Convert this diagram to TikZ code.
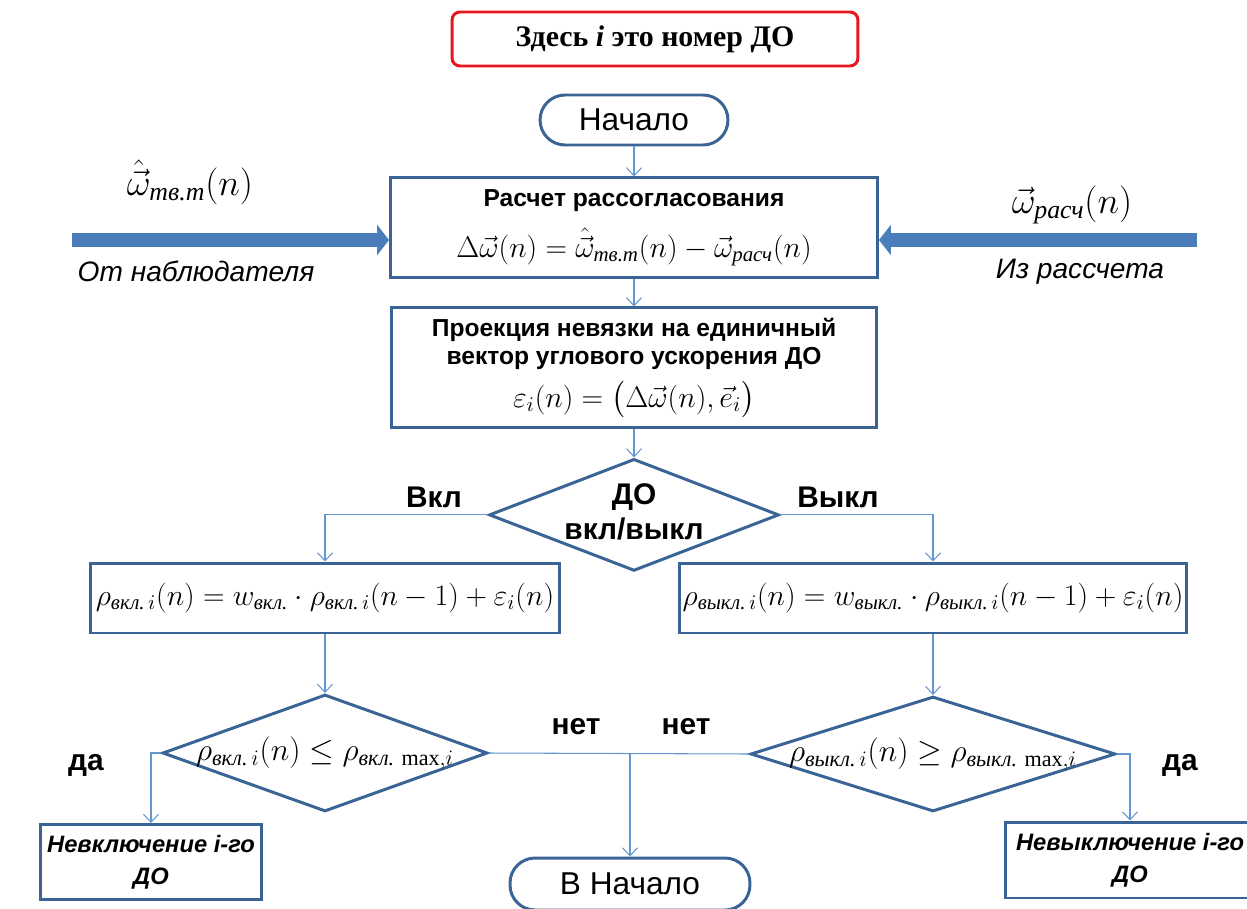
\RequirePackage{fix-cm}
\documentclass[tikz,border=0pt]{standalone}
\usepackage{amsmath}
\usepackage{fontspec}
\setmainfont{Liberation Serif}
\setsansfont{Liberation Sans}
\usetikzlibrary{positioning, arrows.meta, shapes.geometric}

\definecolor{frameblue}{RGB}{59,100,150}
\definecolor{linkblue}{RGB}{100,150,210}
\definecolor{fatblue}{RGB}{74,126,187}
\definecolor{notered}{RGB}{232,20,30}

\newcommand{\cyrsub}[1]{\text{\normalfont\itshape #1}}
\newcommand{\boxtitle}[1]{{\sffamily\bfseries\fontsize{14}{16}\selectfont #1}}

\begin{document}
\begin{tikzpicture}[
        x=0.02cm, y=-0.02cm,
        block/.style={
            rectangle,
            draw=frameblue,
            line width=1.7pt,
            align=center,
            inner sep=2pt,
            font=\fontsize{17}{16}\selectfont
        },
        terminal/.style={
            rectangle,
            rounded corners=0.5cm,
            draw=frameblue,
            line width=1.7pt,
            minimum height=1cm,
            font=\sffamily\fontsize{18}{21}\selectfont
        },
        decision/.style={
            diamond,
            draw=frameblue,
            line width=1.7pt,
            inner sep=0pt,
            align=center,
            font=\fontsize{18}{21}\selectfont
        },
        result/.style={
            rectangle,
            draw=frameblue,
            line width=1.7pt,
            align=center,
            inner sep=0pt,
            font=\sffamily\bfseries\itshape\fontsize{13.5}{18}\selectfont
        },
        lbl/.style={
            font=\sffamily\bfseries\fontsize{17}{20}\selectfont
        },
        srclbl/.style={
            font=\sffamily\itshape\fontsize{16}{19}\selectfont
        },
        link/.style={
            draw=linkblue,
            line width=0.6pt,
            -{Straight Barb[length=1.6mm, width=3mm]}
        },
        fat/.style={
            draw=fatblue,
            line width=0.28cm,
            -{Triangle[length=0.24cm, width=0.6cm]}
        }
    ]
    \useasboundingbox (0,0) rectangle (1247,909);

    % Note
    \node[rectangle, rounded corners=0.16cm, draw=notered, line width=1.7pt,
          minimum width=8.12cm, minimum height=1.08cm,
          font=\bfseries\fontsize{17}{20}\selectfont] (note) at (655,39)
          {Здесь \textit{i} это номер ДО};

    % Main column (top to bottom)
    \node[terminal, minimum width=3.76cm] (start) at (634,120) {Начало};

    \node[block, minimum width=9.74cm, minimum height=2cm, below=0.6cm of start] (calc) {
        \boxtitle{Расчет рассогласования}\\[8pt]
        $\Delta\vec{\omega}(n)=\hat{\vec{\omega}}_{\cyrsub{тв.т}}(n)-\vec{\omega}_{\cyrsub{расч}}(n)$
    };

    \node[block, minimum width=9.7cm, minimum height=2.4cm, below=0.54cm of calc] (proj) {
        \boxtitle{Проекция невязки на единичный}\\
        \boxtitle{вектор углового ускорения ДО}\\[6pt]
        $\varepsilon_i(n)=\bigl(\Delta\vec{\omega}(n),\vec{e}_i\bigr)$
    };

    \node[decision, minimum width=5.8cm, minimum height=2.24cm, below=0.56cm of proj,
          font=\sffamily\bfseries\fontsize{17}{20}\selectfont] (sw)
          {\makebox[0pt]{\raisebox{0.36cm}{\begin{tabular}{@{}c@{}}ДО\\[0pt]вкл/выкл\end{tabular}}}};

    % Branches
    \node[block, minimum width=9.38cm, minimum height=1.4cm] (on) at (325,598)
        {$\rho_{\cyrsub{вкл.}\,i}(n)=w_{\cyrsub{вкл.}}\cdot\rho_{\cyrsub{вкл.}\,i}(n-1)+\varepsilon_i(n)$};
    \node[block, minimum width=9.44cm, minimum height=1.4cm] (off) at (933,598)
        {$\rho_{\cyrsub{выкл.}\,i}(n)=w_{\cyrsub{выкл.}}\cdot\rho_{\cyrsub{выкл.}\,i}(n-1)+\varepsilon_i(n)$};

    \node[decision, minimum width=6.5cm, minimum height=2.34cm] (oncheck) at (325,753)
        {\makebox[0pt]{$\rho_{\cyrsub{вкл.}\,i}(n)\le\rho_{\cyrsub{вкл.}\,\max,i}$}};
    \node[decision, minimum width=7.3cm, minimum height=2.3cm] (offcheck) at (933,754)
        {\makebox[0pt]{$\rho_{\cyrsub{выкл.}\,i}(n)\ge\rho_{\cyrsub{выкл.}\,\max,i}$}};

    \node[terminal, minimum width=4.8cm, minimum height=1.04cm] (back) at (630,884) {В Начало};
    \node[result, minimum width=4.44cm, minimum height=1.5cm] (noon) at (151,862) {Невключение i-го\\ДО};
    \node[result, minimum width=5cm, minimum height=1.52cm] (nooff) at (1130,860) {Невыключение i-го\\ДО};

    % Labels
    \node[lbl] (vkl) at (434,497) {Вкл};
    \node[lbl] (vykl) at (838,497) {Выкл};
    \node[lbl] (no1) at (576,727) {нет};
    \node[lbl] (no2) at (686,727) {нет};
    \node[lbl] (yes1) at (86,765) {да};
    \node[lbl] (yes2) at (1180,765) {да};

    % Inputs
    \coordinate (obs) at (72,240);
    \coordinate (est) at (1197,240);
    \node[font=\fontsize{21}{24}\selectfont] (omegaobs) at (190,182) {$\hat{\vec{\omega}}_{\cyrsub{тв.т}}(n)$};
    \node[srclbl] (obslbl) at (196,271) {От наблюдателя};
    \node[font=\fontsize{21}{24}\selectfont] (omegacalc) at (1072,205) {$\vec{\omega}_{\cyrsub{расч}}(n)$};
    \node[srclbl] (estlbl) at (1080,272) {Из рассчета};
    \draw[fat] (obs) -- (calc.west |- obs);
    \draw[fat] (est) -- (calc.east |- est);

    % Arrows
    \draw[link] (start) -- (calc);
    \draw[link] (calc) -- (proj);
    \draw[link] (proj) -- (sw);
    \draw[link] (sw.west) -| (on.north);
    \draw[link] (sw.east) -| (off.north);
    \draw[link] (on) -- (oncheck);
    \draw[link] (off) -- (offcheck);
    \draw[link] (oncheck.west) -| (noon.north);
    \draw[link] (offcheck.east) -| (nooff.north);
    \draw[link, -] (oncheck.east) -- (offcheck.west);
    \coordinate (join) at (back.north |- oncheck.east);
    \draw[link] (join) -- (back.north);

\end{tikzpicture}
\end{document}
